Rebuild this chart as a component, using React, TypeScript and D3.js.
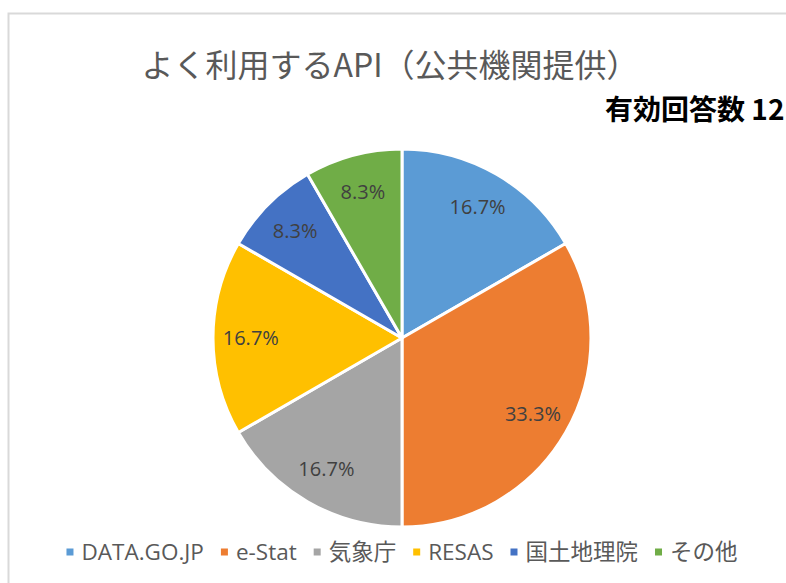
import React, { useRef, useEffect } from 'react';
import * as d3 from 'd3';

// Chart data
const categories = ['DATA.GO.JP', 'e-Stat', '気象庁', 'RESAS', '国土地理院', 'その他'];
const counts = [2, 4, 2, 2, 1, 1];
const colors = ['#5B9BD5', '#ED7D31', '#A5A5A5', '#FFC000', '#4472C4', '#70AD47'];
const title = 'よく利用するAPI（公共機関提供）';
const note = '有効回答数 12';

const App: React.FC = () => {
	const svgRef = useRef<SVGSVGElement | null>(null);

	useEffect(() => {
		if (!svgRef.current) return;

		const width = 786;
		const height = 583;
		const cx = 402;
		const cy = 338;
		const radius = 189;
		const total = d3.sum(counts);
		const fmt = d3.format('.1%');

		const svg = d3.select(svgRef.current)
			.attr('width', width)
			.attr('height', height);
		svg.selectAll('*').remove();

		svg.append('rect')
			.attr('width', width)
			.attr('height', height)
			.attr('fill', '#ffffff');

		// Chart frame (right and bottom edges fall outside the picture)
		svg.append('rect')
			.attr('x', 8.5)
			.attr('y', 13.5)
			.attr('width', 900)
			.attr('height', 700)
			.attr('fill', 'none')
			.attr('stroke', '#d9d9d9')
			.attr('stroke-width', 2);

		svg.append('text')
			.attr('x', 390)
			.attr('y', 77)
			.attr('text-anchor', 'middle')
			.attr('fill', '#595959')
			.style('font', '32px "Noto Sans CJK JP", sans-serif')
			.text(title);

		svg.append('text')
			.attr('x', 605)
			.attr('y', 120)
			.attr('fill', '#000000')
			.style('font', '600 28px "Noto Sans CJK JP", sans-serif')
			.text(note);

		// Pie
		const data = categories.map((c, i) => ({ name: c, value: counts[i], color: colors[i] }));
		const pie = d3.pie<any>().value(d => d.value).sort(null);
		const arcs = pie(data);
		const arc = d3.arc<any>().innerRadius(0).outerRadius(radius);
		const labelArc = d3.arc<any>().innerRadius(radius * 0.8).outerRadius(radius * 0.8);

		const g = svg.append('g').attr('transform', `translate(${cx},${cy})`);

		g.selectAll('path')
			.data(arcs)
			.join('path')
			.attr('d', arc)
			.attr('fill', d => d.data.color)
			.attr('stroke', '#ffffff')
			.attr('stroke-width', 3)
			.attr('stroke-linejoin', 'round');

		g.selectAll('text')
			.data(arcs)
			.join('text')
			.attr('transform', d => `translate(${labelArc.centroid(d)})`)
			.attr('text-anchor', 'middle')
			.attr('dy', '0.35em')
			.attr('fill', '#404040')
			.style('font', '20px "Open Sans", sans-serif')
			.text(d => fmt(d.data.value / total));

		// Legend laid out from measured text widths
		const legend = svg.append('g');
		const markerSize = 7;
		const markerGap = 8;
		const itemGap = 17;
		const items = legend.selectAll('g')
			.data(data)
			.join('g');
		items.append('rect')
			.attr('width', markerSize)
			.attr('height', markerSize)
			.attr('y', -markerSize / 2)
			.attr('fill', d => d.color);
		const texts = items.append('text')
			.attr('x', markerSize + markerGap)
			.attr('dy', '0.35em')
			.attr('fill', '#595959')
			.style('font', '22.5px "Open Sans", "Noto Sans CJK JP", sans-serif')
			.text(d => d.name);

		const widths: number[] = [];
		texts.each(function () {
			widths.push((this as SVGTextElement).getComputedTextLength());
		});
		const itemWidths = widths.map(w => markerSize + markerGap + w);
		const totalWidth = d3.sum(itemWidths) + itemGap * (itemWidths.length - 1);
		let x = 402 - totalWidth / 2;
		const offsets = itemWidths.map(w => { const o = x; x += w + itemGap; return o; });
		items.attr('transform', (d, i) => `translate(${offsets[i]},552)`);
	}, []);

	return (
		<svg ref={svgRef} style={{ position: 'absolute', left: 0, top: 0, display: 'block' }} />
	);
};

export default App;
